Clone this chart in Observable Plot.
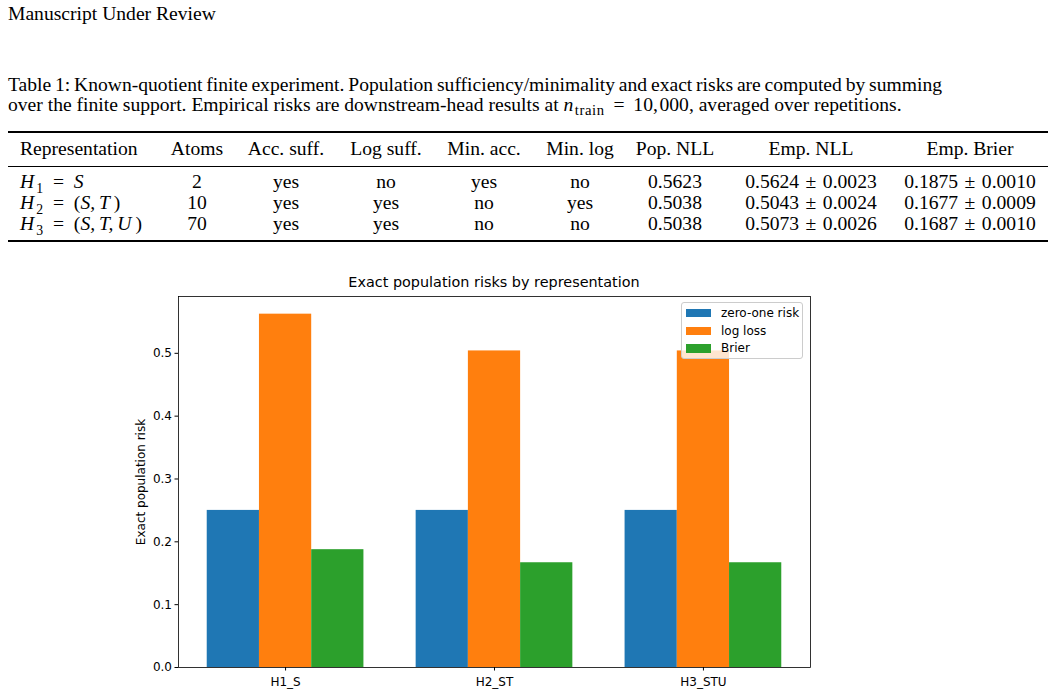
<!DOCTYPE html>
<html>
<head>
<meta charset="utf-8">
<script src="https://cdn.jsdelivr.net/npm/d3@7"></script>
<script src="https://cdn.jsdelivr.net/npm/@observablehq/plot@0.6"></script>
<style>
  html, body { margin: 0; padding: 0; background: #fff; }
  body { width: 1056px; height: 695px; position: relative; overflow: hidden;
         font-family: "Liberation Serif", "Times New Roman", serif; color: #000; }
  .abs { position: absolute; white-space: nowrap; }
  #running { left: 8px; top: 4px; font-size: 19.6px; line-height: 20px; }
  #caption { left: 8px; top: 75px; font-size: 19.6px; line-height: 19.5px; width: 934px; }
  #caption .l1 { display: block; text-align: justify; text-align-last: justify; white-space: nowrap; word-spacing: -1.3px; }
  .rule { position: absolute; left: 8px; width: 1040px; background: #000; }
  .trow { position: absolute; left: 0; width: 1056px; height: 19px; font-size: 19.6px; line-height: 19px; }
  .cell { position: absolute; top: 0; transform: translateX(-50%); white-space: nowrap; }
  .cell.first { transform: none; }
  i { font-style: italic; }
  .sub { font-size: 0.7em; position: relative; top: 0.34em; line-height: 0; margin-left: 0.16em; }
  .subw { font-size: 0.75em; position: relative; top: 0.3em; line-height: 0; letter-spacing: 0.04em; margin-left: 0.1em; }
  .rel { margin: 0 0.5em; }
  .relw { margin: 0 0.45em; }
  .pm { margin: 0 0.33em; }
  #chart-title { position: absolute; left: 178px; width: 632px; top: 274px; text-align: center;
                 font-family: "DejaVu Sans", sans-serif; font-size: 14.4px; line-height: 17px; }
  #chart { position: absolute; left: 0; top: 262px; }
  #legend { position: absolute; left: 681px; top: 302px; width: 120px; height: 55px;
            background: rgba(255,255,255,0.8); border: 1px solid #cccccc; border-radius: 3px;
            font-family: "DejaVu Sans", sans-serif; font-size: 12px; }
  .lg-row { position: absolute; left: 4px; height: 14px; line-height: 14px; }
  .lg-sw { position: absolute; left: 0; top: 3px; width: 25px; height: 8.4px; }
  .lg-tx { position: absolute; left: 35px; top: 0; white-space: nowrap; }
</style>
</head>
<body>
<div id="running" class="abs">Manuscript Under Review</div>
<div id="caption" class="abs"><span class="l1">Table 1: Known-quotient finite experiment. Population sufficiency/minimality and exact risks are computed by summing</span>over the finite support. Empirical risks are downstream-head results at <i>n</i><span class="subw">train</span><span class="relw">=</span>10,&hairsp;000, averaged over repetitions.</div>

<div class="rule" style="top:131px;height:1.6px"></div>
<div class="rule" style="top:165.5px;height:1px"></div>
<div class="rule" style="top:240px;height:1.6px"></div>
<div id="table"></div>

<div id="chart-title">Exact population risks by representation</div>
<div id="chart"></div>
<div id="legend"></div>

<script>
// ---- Table 1 contents ----
const tableHeaders = ["Representation", "Atoms", "Acc. suff.", "Log suff.", "Min. acc.", "Min. log", "Pop. NLL", "Emp. NLL", "Emp. Brier"];
const representations = [
  "<i>H</i><span class='sub'>1</span><span class='rel'>=</span><i>S</i>",
  "<i>H</i><span class='sub'>2</span><span class='rel'>=</span>(<i>S,</i>&thinsp;<i>T</i>&thinsp;)",
  "<i>H</i><span class='sub'>3</span><span class='rel'>=</span>(<i>S,</i>&thinsp;<i>T,</i>&thinsp;<i>U</i>&thinsp;)"
];
const atoms = ["2", "10", "70"];
const accSuff = ["yes", "yes", "yes"];
const logSuff = ["no", "yes", "yes"];
const minAcc = ["yes", "no", "no"];
const minLog = ["no", "yes", "no"];
const popNLL = ["0.5623", "0.5038", "0.5038"];
const empNLLMean = ["0.5624", "0.5043", "0.5073"];
const empNLLSd = ["0.0023", "0.0024", "0.0026"];
const empBrierMean = ["0.1875", "0.1677", "0.1687"];
const empBrierSd = ["0.0010", "0.0009", "0.0010"];

// ---- Chart series (exact population risks) ----
const categories = ["H1_S", "H2_ST", "H3_STU"];
const seriesNames = ["zero-one risk", "log loss", "Brier"];
const zeroOneRisk = [0.25, 0.25, 0.25];
const logLoss = [0.5623, 0.5038, 0.5038];
const brierRisk = [0.1875, 0.1667, 0.1667];
const seriesColors = ["#1f77b4", "#ff7f0e", "#2ca02c"];
const yTicks = [0, 0.1, 0.2, 0.3, 0.4, 0.5];

// column anchors: first column is left aligned, others centred
const colX = [20, 197, 286, 386, 484, 580, 675, 811, 970];

function addRow(top, cells) {
  const row = document.createElement("div");
  row.className = "trow";
  row.style.top = top + "px";
  cells.forEach((html, k) => {
    const c = document.createElement("span");
    c.className = "cell" + (k === 0 ? " first" : "");
    c.style.left = colX[k] + "px";
    c.innerHTML = html;
    row.appendChild(c);
  });
  document.getElementById("table").appendChild(row);
}

addRow(139, tableHeaders);
const pm = "<span class='pm'>±</span>";
representations.forEach((r, i) => {
  addRow(172 + i * 21, [
    r, atoms[i], accSuff[i], logSuff[i], minAcc[i], minLog[i], popNLL[i],
    empNLLMean[i] + pm + empNLLSd[i],
    empBrierMean[i] + pm + empBrierSd[i]
  ]);
});

// ---- Grouped bars ----
const barWidth = 0.25;
const seriesValues = [zeroOneRisk, logLoss, brierRisk];
const bars = seriesValues.flatMap((vals, j) =>
  vals.map((v, i) => {
    const centre = i + (j - 1) * barWidth;
    return {category: categories[i], series: seriesNames[j], x1: centre - barWidth / 2, x2: centre + barWidth / 2, value: v};
  })
);
// 5% padding on both axes' data extent, as matplotlib autoscaling does
const xLo = d3.min(bars, d => d.x1), xHi = d3.max(bars, d => d.x2);
const xPad = (xHi - xLo) * 0.05;
const yMax = d3.max(bars, d => d.value) * 1.05;

const chart = Plot.plot({
  width: 1056,
  height: 433,
  marginTop: 34,
  marginBottom: 28,
  marginLeft: 178,
  marginRight: 246,
  style: {fontFamily: "DejaVu Sans, sans-serif", fontSize: "12px", color: "#000", background: "transparent", overflow: "visible"},
  x: {domain: [xLo - xPad, xHi + xPad]},
  y: {domain: [0, yMax]},
  color: {domain: seriesNames, range: seriesColors},
  marks: [
    Plot.rect(bars, {x1: "x1", x2: "x2", y1: () => 0, y2: "value", fill: "series"}),
    Plot.axisX({ticks: [0, 1, 2], tickFormat: i => categories[i], tickSize: 3.5, tickPadding: 6.5, label: null}),
    Plot.axisY({ticks: yTicks, tickFormat: d3.format(".1f"), tickSize: 3.5, tickPadding: 3, label: null}),
    Plot.frame({stroke: "#000", strokeWidth: 0.8}),
    Plot.text(["Exact population risk"], {frameAnchor: "left", rotate: -90, dx: -37, textAnchor: "middle", lineAnchor: "middle", fontSize: 12})
  ]
});
document.getElementById("chart").appendChild(chart);

// ---- Legend inside the axes ----
const legend = document.getElementById("legend");
seriesNames.forEach((name, j) => {
  const row = document.createElement("div");
  row.className = "lg-row";
  row.style.top = (3 + j * 17.6) + "px";
  row.innerHTML = `<span class="lg-sw" style="background:${seriesColors[j]}"></span><span class="lg-tx">${name}</span>`;
  legend.appendChild(row);
});
</script>
</body>
</html>
